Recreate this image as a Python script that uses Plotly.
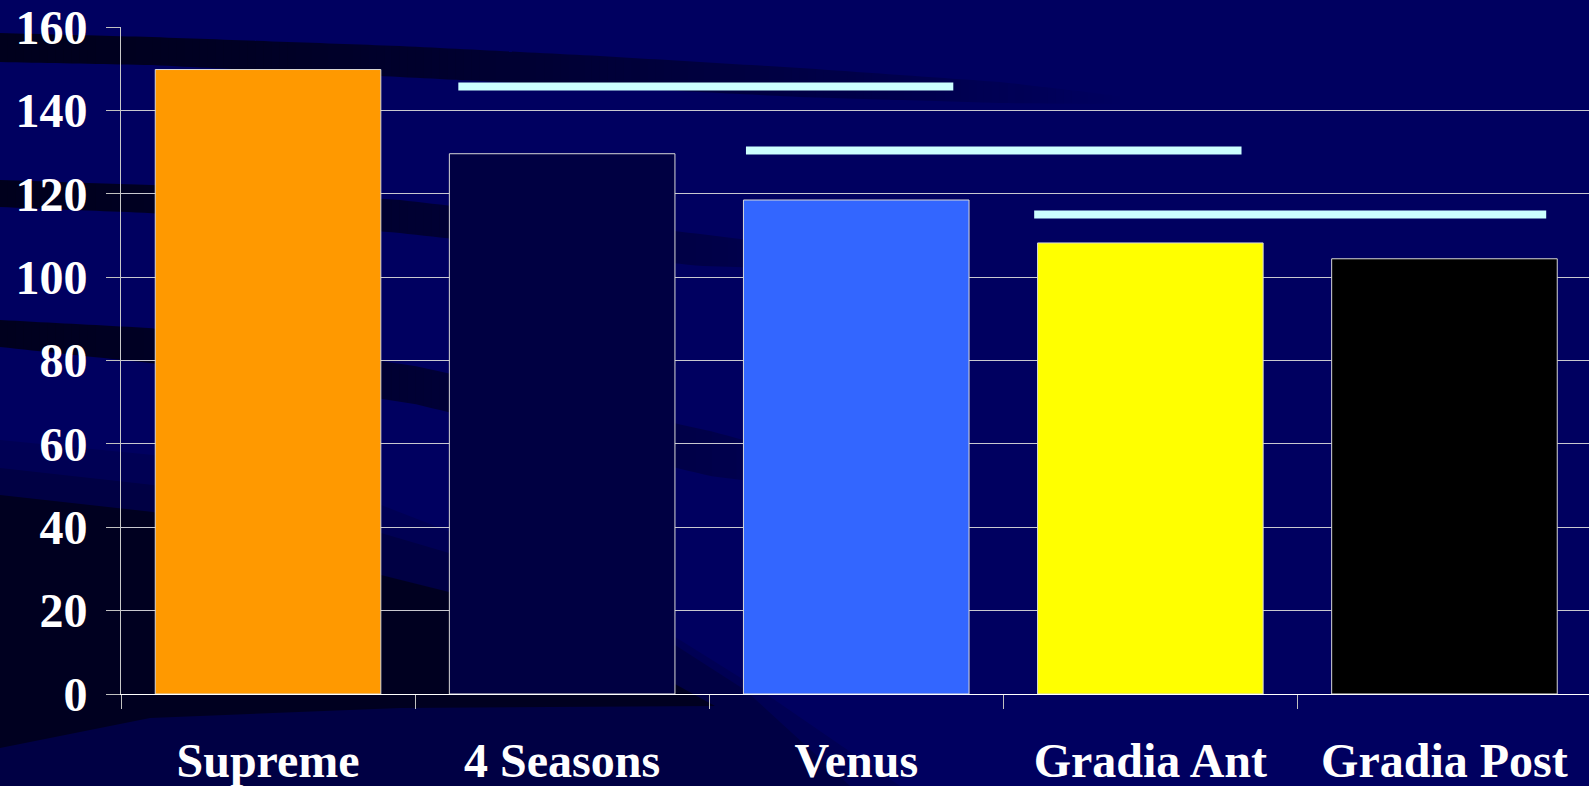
import plotly.graph_objects as go

# ---- data ----
categories = ["Supreme", "4 Seasons", "Venus", "Gradia Ant", "Gradia Post"]
values = [149.8, 129.6, 118.5, 108.2, 104.4]
bar_colors = ["#FF9900", "#000042", "#3366FF", "#FFFF00", "#000000"]

# significance brackets: start / end as category positions, level in y units
sig_start = [0.647, 1.625, 2.605]
sig_end = [2.33, 3.31, 4.346]
sig_level = [145.7, 130.4, 115.0]

y_ticks = [0, 20, 40, 60, 80, 100, 120, 140, 160]

# ---- page geometry ----
W, H = 1589, 786
ML, MR, MT, MB = 121, 0, 27, 92
PW, PH = W - ML - MR, H - MT - MB

BG = "#000060"
SHADE = "#00000C"
FONT = dict(family="Liberation Serif, Times New Roman, serif", size=48,
            color="white", weight="bold")


def to_paper(pts):
    """Pixel outline -> SVG path in paper coordinates."""
    segs = []
    for i, (x, y) in enumerate(pts):
        px = (x - ML) / PW
        py = (H - MB - y) / PH
        segs.append(("M" if i == 0 else "L") + f"{px:.5f},{py:.5f}")
    return " ".join(segs) + " Z"


def shade(pts, opacity):
    return dict(type="path", xref="paper", yref="paper", path=to_paper(pts),
                fillcolor=SHADE, opacity=opacity, line=dict(width=0), layer="below")


def lerp(xs, vals, x):
    for i in range(len(xs) - 1):
        if xs[i] <= x <= xs[i + 1]:
            t = (x - xs[i]) / (xs[i + 1] - xs[i])
            return vals[i] + t * (vals[i + 1] - vals[i])
    return vals[-1]


def fading_band(xs, up, lo, ops, step=8):
    """A dark background swoosh that fades out towards its right end."""
    out = []
    x = xs[0]
    while x < xs[-1]:
        x2 = min(x + step, xs[-1])
        op = lerp(xs, ops, (x + x2) / 2)
        quad = [(x, lerp(xs, up, x)), (x2, lerp(xs, up, x2)),
                (x2, lerp(xs, lo, x2)), (x, lerp(xs, lo, x))]
        out.append(shade(quad, op))
        x = x2
    return out


# background swooshes: x stations, upper edge, lower edge, opacity
swoosh_bands = [
    ([0, 150, 400, 600, 800, 1000, 1120],
     [33, 37, 46, 56, 68, 82, 96],
     [62, 65, 77, 87, 97, 103, 104],
     [0.8, 0.76, 0.62, 0.48, 0.32, 0.14, 0.0]),
    ([0, 150, 400, 700, 920],
     [180, 185, 200, 234, 262],
     [207, 213, 233, 266, 272],
     [0.8, 0.74, 0.56, 0.3, 0.0]),
    ([0, 150, 415, 710, 900],
     [320, 328, 366, 431, 482],
     [347, 363, 404, 476, 500],
     [0.78, 0.72, 0.52, 0.26, 0.0]),
]

shapes = []
for xs, up, lo, ops in swoosh_bands:
    shapes.extend(fading_band(xs, up, lo, ops))

# darker sweep in the lower-left corner
shapes.append(shade([(0, 440), (153, 455), (381, 505), (600, 590), (760, 690),
                     (900, 786), (0, 786)], 0.14))
shapes.append(shade([(0, 468), (153, 485), (381, 533), (449, 553), (675, 645),
                     (745, 690), (850, 786), (0, 786)], 0.22))
shapes.append(shade([(0, 495), (153, 512), (381, 575), (449, 592), (675, 684),
                     (715, 706), (400, 708), (150, 718), (0, 748)], 0.64))

for x0, x1, lvl in zip(sig_start, sig_end, sig_level):
    shapes.append(dict(type="line", xref="x", yref="y", x0=x0, x1=x1, y0=lvl, y1=lvl,
                       line=dict(color="#CCFFFF", width=8), layer="above"))

fig = go.Figure(
    go.Bar(
        x=categories,
        y=values,
        width=0.767,
        marker=dict(color=bar_colors, line=dict(color="#D8D8D8", width=1)),
        hoverinfo="x+y",
    )
)

fig.update_layout(
    width=W,
    height=H,
    autosize=False,
    margin=dict(l=ML, r=MR, t=MT, b=MB, pad=0),
    paper_bgcolor=BG,
    plot_bgcolor="rgba(0,0,0,0)",
    showlegend=False,
    shapes=shapes,
)

fig.update_xaxes(
    type="category",
    range=[-0.5, -0.5 + PW / 294.1],
    tickson="boundaries",
    ticks="outside",
    ticklen=14,
    tickwidth=1,
    tickcolor="#C0C0C0",
    showline=True,
    linecolor="#FFFFFF",
    linewidth=1,
    showgrid=False,
    tickfont=FONT,
    ticklabelstandoff=24,
    automargin=False,
    fixedrange=True,
)

fig.update_yaxes(
    range=[0, 160],
    tickmode="array",
    tickvals=y_ticks,
    ticks="outside",
    ticklen=14,
    tickwidth=1,
    tickcolor="#C0C0C0",
    showline=True,
    linecolor="#C8C8C8",
    linewidth=1,
    showgrid=True,
    gridcolor="#C8C8D0",
    gridwidth=1,
    zeroline=False,
    tickfont=FONT,
    ticklabelstandoff=9,
    automargin=False,
    fixedrange=True,
)

fig.write_html("out.html")
